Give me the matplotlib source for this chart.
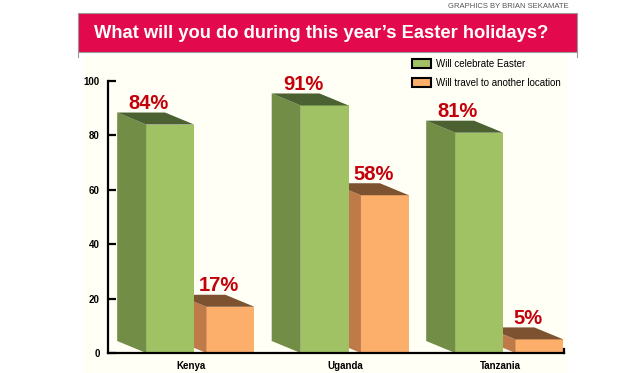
import numpy as np
import matplotlib
matplotlib.use("Agg")
import matplotlib.pyplot as plt
from matplotlib.patches import Rectangle, Polygon, Patch

# data
countries = ["Kenya", "Uganda", "Tanzania"]
celebrate = [84, 91, 81]
travel = [17, 58, 5]
series_names = ["Will celebrate Easter", "Will travel to another location"]
yticks = [0, 20, 40, 60, 80, 100]

title = "What will you do during this year\u2019s Easter holidays?"
credit = "GRAPHICS BY BRIAN SEKAMATE"

plt.rcParams["font.family"] = ["Liberation Sans", "DejaVu Sans"]

W, H = 640, 373
fig = plt.figure(figsize=(W / 100, H / 100), dpi=100)
fig.patch.set_facecolor("white")


def px(x, y):
    # pixel (from top-left) -> figure fraction
    return x / W, 1 - y / H


# cream panel + red title band
fig.patches.append(Rectangle(px(83, 373), 484 / W, 318 / H, transform=fig.transFigure,
                             facecolor="#fffff6", edgecolor="none", zorder=0))
fig.patches.append(Rectangle(px(78, 52), 499 / W, 39 / H, transform=fig.transFigure,
                             facecolor="#e20a4c", edgecolor="#9a9a9a", linewidth=0.8, zorder=1))
fig.lines.append(plt.Line2D([78 / W, 78 / W], [1 - 52 / H, 1 - 57 / H], transform=fig.transFigure,
                            color="#9a9a9a", linewidth=0.8))
fig.lines.append(plt.Line2D([577 / W, 577 / W], [1 - 52 / H, 1 - 57 / H], transform=fig.transFigure,
                            color="#9a9a9a", linewidth=0.8))
fig.text(*px(321, 33), title, ha="center", va="center", color="white",
         fontsize=13.2, fontweight="bold")
fig.text(*px(569, 7), credit, ha="right", va="center", color="#555555", fontsize=5.5)

# axes placed to match the reference
x0, x1, y0, y1 = 108, 564, 81, 353
ax = fig.add_axes([x0 / W, 1 - y1 / H, (x1 - x0) / W, (y1 - y0) / H])
ax.set_facecolor("none")
ax.set_zorder(5)

unit = 154.5  # pixels per category
xmin = (x0 - 191) / unit
xmax = (x1 - 191) / unit
ax.set_xlim(xmin, xmax)
ax.set_ylim(0, 100)

pos = np.arange(len(countries))
width = 0.31
g_left = pos - 0.29
o_left = pos + 0.10

# depth of the fake 3d boxes
dx = -29 / unit
dy = 12 / (y1 - y0) * 100

green = ("#a1c264", "#728d46", "#4b6131")
orange = ("#fcae6b", "#bf7a49", "#7c5230")


def boxes(lefts, vals, cols, z):
    ax.bar(lefts, vals, width=width, align="edge", color=cols[0], zorder=z, linewidth=0)
    for l, v in zip(lefts, vals):
        side = [(l, 0), (l, v), (l + dx, v + dy), (l + dx, dy)]
        top = [(l, v), (l + width, v), (l + width + dx, v + dy), (l + dx, v + dy)]
        ax.add_patch(Polygon(side, closed=True, facecolor=cols[1], edgecolor="none", zorder=z))
        ax.add_patch(Polygon(top, closed=True, facecolor=cols[2], edgecolor="none", zorder=z))


boxes(o_left, travel, orange, 2)
boxes(g_left, celebrate, green, 3)

for l, v in zip(g_left, celebrate):
    ax.text(l + 0.015, v + dy + 1.2, f"{v}%", ha="center", va="baseline",
            color="#c4000b", fontsize=14.5, fontweight="bold", zorder=5)
for l, v in zip(o_left, travel):
    ax.text(l + 0.08, v + dy + 1.2, f"{v}%", ha="center", va="baseline",
            color="#c4000b", fontsize=14.5, fontweight="bold", zorder=5)

# axes styling
for s in ["top", "right"]:
    ax.spines[s].set_visible(False)
for s in ["left", "bottom"]:
    ax.spines[s].set_linewidth(1.6)
    ax.spines[s].set_zorder(6)
ax.set_yticks(yticks)
ax.set_yticklabels([str(t) for t in yticks], fontsize=7, fontweight="bold")
ax.tick_params(axis="y", direction="in", length=6, width=1.6, pad=6)
ax.set_xticks(pos)
ax.set_xticklabels(countries, fontsize=7, fontweight="bold")
ax.tick_params(axis="x", length=0, pad=6)
ax.plot([xmax, xmax], [0, 1.6], color="black", linewidth=1.6, clip_on=False, zorder=6)

handles = [Patch(facecolor=green[0], edgecolor="black", linewidth=1.5),
           Patch(facecolor=orange[0], edgecolor="black", linewidth=1.5)]
fig.legend(handles, series_names, loc="upper left", bbox_to_anchor=px(412, 59),
           frameon=False, fontsize=7, handlelength=2.0, handleheight=1.0,
           handletextpad=0.5, labelspacing=0.9, borderpad=0, borderaxespad=0)

fig.savefig("out.png", dpi=100, facecolor="white")
